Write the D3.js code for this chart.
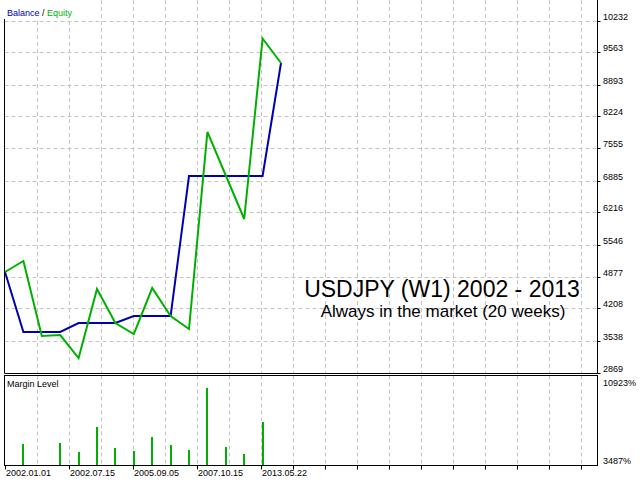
<!DOCTYPE html>
<html><head><meta charset="utf-8">
<script src="https://cdn.jsdelivr.net/npm/d3@7"></script>
<style>body{margin:0;background:#fff}svg{display:block}text{font-family:"Liberation Sans",Arial,sans-serif}</style>
</head><body>
<script>
// ---- data ----
const tradeIndex = d3.range(0, 16);
const balance = [4971,3716,3716,3716,3904,3904,3904,4050,4050,4050,6979,6979,6979,6979,6979,9343];
const equity  = [4971,5201,3632,3653,3172,4615,3904,3674,4636,4050,3778,7900,6990,6080,9855,9343];
const marginIdx   = [1,3,4,5,6,7,8,9,10,11,12,13,14];
const marginLevel = [5242,5325,4573,6662,4907,4657,5826,5158,4740,9920,4991,4406,7080];
const yTicks = [10232,9563,8893,8224,7555,6885,6216,5546,4877,4208,3538,2869];
const marginTicks = [10923,3487];
const dateLabels = ["2002.01.01","2002.07.15","2005.09.05","2007.10.15","2013.05.22"];
const dateCols = [0,2,4,6,8];
const gridCols = d3.range(1,19);
const tickCols = [0,2,4,6,8,9,10,11,12,13,14,15,16,17,18];

const W=640,H=480;
const L=4.5,R=597.5,mainBottom=373.5,mTop=375.5,mBottom=465.5;
const blue="#0000b0", green="#00b000", grid="#c4c4c4";

const svg=d3.select("body").append("svg").attr("width",W).attr("height",H);

const x=d3.scaleLinear().domain([0,15]).range([5,281]);
const col=d3.scaleLinear().domain([0,18]).range([5,581]);
const y=d3.scaleLinear().domain([2869,10232]).range([372.5,20.5]);
const ym=d3.scaleLinear().domain([3487,10923]).range([465,376]);

// grids main
const g=svg.append("g");
g.selectAll(".hg").data(yTicks.filter(v=>v!==2869)).join("line")
 .attr("x1",L).attr("x2",R).attr("y1",d=>Math.round(y(d))+0.5).attr("y2",d=>Math.round(y(d))+0.5)
 .attr("stroke",grid).attr("stroke-dasharray","4,3");
g.selectAll(".vg").data(gridCols).join("line")
 .attr("x1",d=>Math.round(col(d))+0.5).attr("x2",d=>Math.round(col(d))+0.5)
 .attr("y1",0).attr("y2",mainBottom).attr("stroke",grid).attr("stroke-dasharray","4,3");
// grid margin
g.selectAll(".vgm").data(gridCols).join("line")
 .attr("x1",d=>Math.round(col(d))+0.5).attr("x2",d=>Math.round(col(d))+0.5)
 .attr("y1",mTop).attr("y2",mBottom).attr("stroke",grid).attr("stroke-dasharray","4,3");

// lines
const line=d3.line().x((d,i)=>x(i)).y(d=>y(d));
svg.append("path").datum(balance).attr("d",line).attr("fill","none").attr("stroke",blue).attr("stroke-width",2);
svg.append("path").datum(equity).attr("d",line).attr("fill","none").attr("stroke",green).attr("stroke-width",2);

// margin bars
svg.selectAll(".bar").data(marginLevel).join("rect")
 .attr("x",(d,i)=>Math.round(x(marginIdx[i]))-1).attr("width",2)
 .attr("y",d=>Math.round(ym(d))).attr("height",d=>465-Math.round(ym(d)))
 .attr("fill",green);

// frames
svg.append("path").attr("d",`M${L},-1V${mainBottom}H${R}V-1`).attr("fill","none").attr("stroke","#000");
svg.append("rect").attr("x",L).attr("y",mTop).attr("width",R-L).attr("height",mBottom-mTop).attr("fill","none").attr("stroke","#000");

// legend box
svg.append("rect").attr("x",0).attr("y",0).attr("width",88).attr("height",19).attr("fill","#fff");
const leg=svg.append("text").attr("x",7).attr("y",16).attr("font-size",9);
leg.append("tspan").attr("fill",blue).text("Balance");
leg.append("tspan").attr("fill","#000").text(" / ");
leg.append("tspan").attr("fill",green).text("Equity");

svg.append("text").attr("x",7).attr("y",387).attr("font-size",9).attr("fill","#000").text("Margin Level");

// right axis
const ra=svg.append("g");
ra.selectAll("line").data(yTicks).join("line")
 .attr("x1",R).attr("x2",R+3).attr("y1",d=>Math.round(y(d))+0.5).attr("y2",d=>Math.round(y(d))+0.5).attr("stroke","#000");
ra.selectAll("text").data(yTicks).join("text")
 .attr("x",603).attr("y",d=>Math.round(y(d))-1).attr("font-size",9).attr("fill","#000").text(d=>d);
svg.selectAll(".mt").data(marginTicks).join("text")
 .attr("x",603).attr("y",(d,i)=>i===0?386:464).attr("font-size",9).attr("fill","#000").text(d=>d+"%");

// bottom axis
svg.selectAll(".bt").data(tickCols).join("line")
 .attr("x1",d=>Math.round(col(d))+0.5).attr("x2",d=>Math.round(col(d))+0.5)
 .attr("y1",mBottom).attr("y2",mBottom+4).attr("stroke","#000");
svg.selectAll(".bl").data(dateLabels).join("text")
 .attr("x",(d,i)=>col(dateCols[i])+1).attr("y",476).attr("font-size",9).attr("fill","#000").text(d=>d);

// title texts
svg.append("text").attr("x",442).attr("y",297).attr("text-anchor","middle").attr("font-size",23).attr("fill","#000").text("USDJPY (W1) 2002 - 2013");
svg.append("text").attr("x",443).attr("y",317).attr("text-anchor","middle").attr("font-size",17).attr("fill","#000").text("Always in the market (20 weeks)");
</script>
</body></html>
